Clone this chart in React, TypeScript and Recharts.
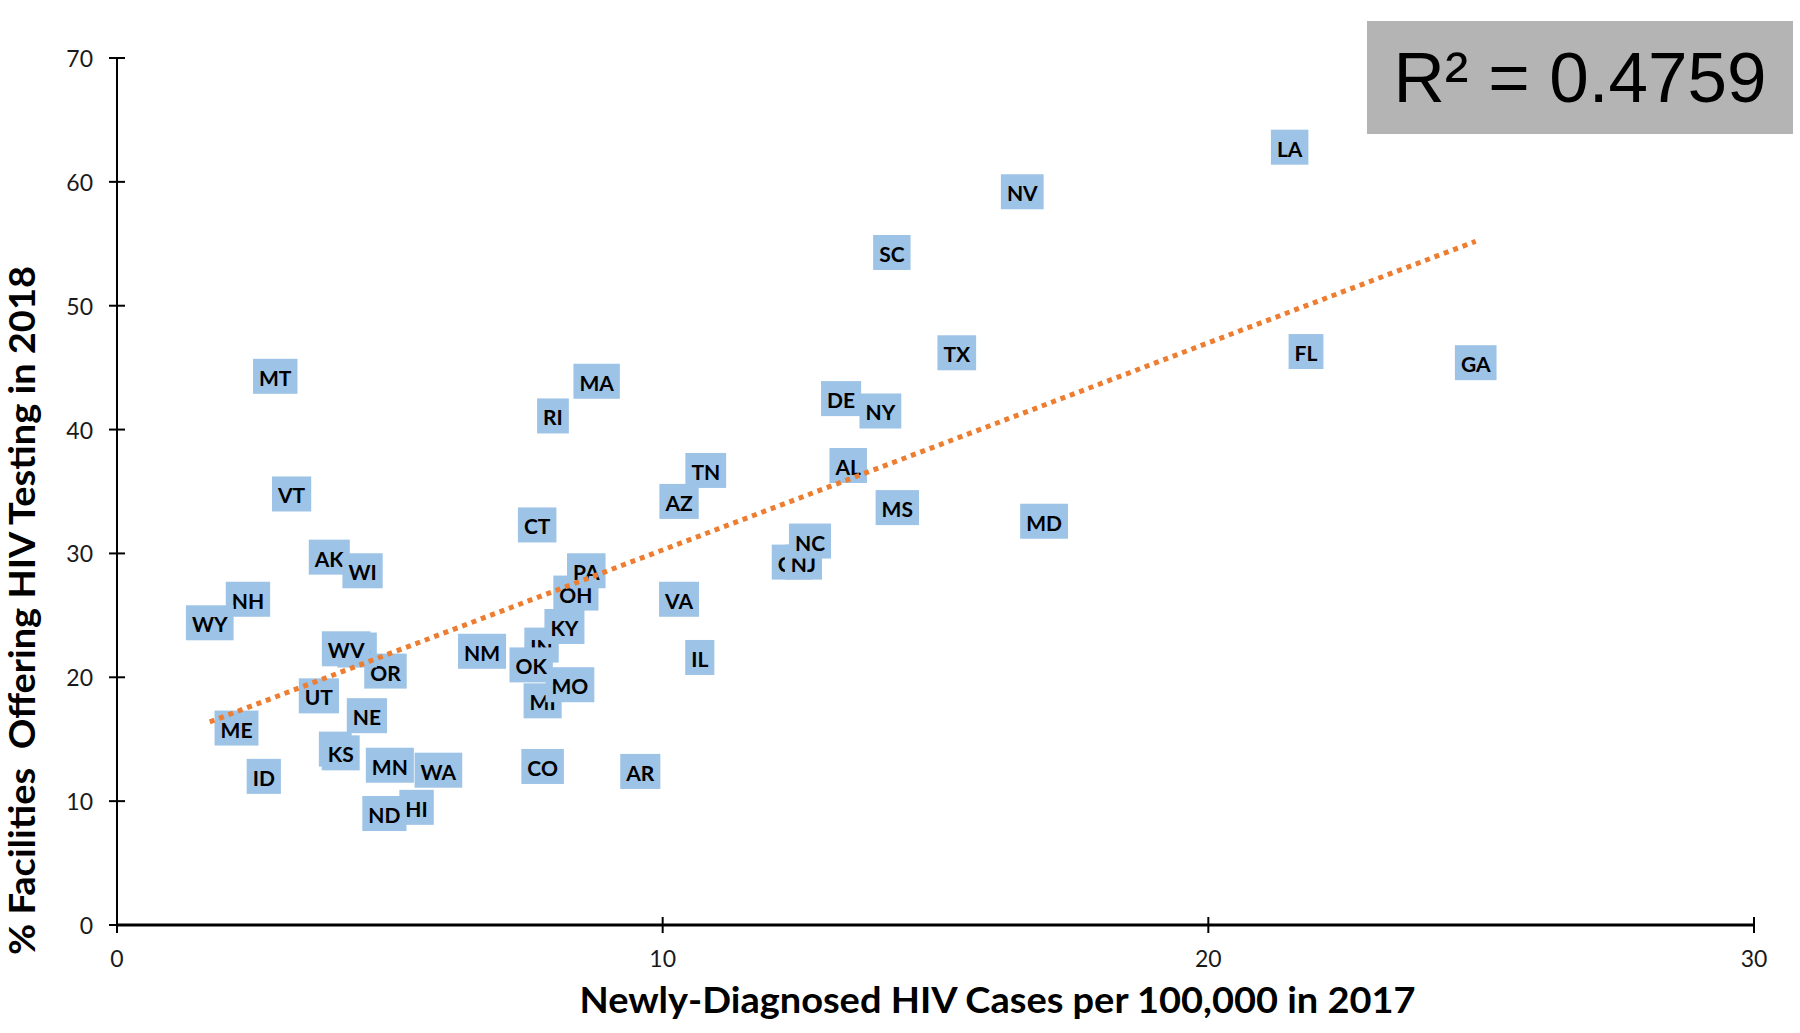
import React from 'react';
import { ScatterChart, Scatter, XAxis, YAxis, Label } from 'recharts';

document.body.style.margin = '0';

// states in full-name order (that is the drawing order of the labels)
const states = [
  'AL', 'AK', 'AZ', 'AR', 'CA', 'CO', 'CT', 'DE', 'FL', 'GA',
  'HI', 'ID', 'IL', 'IN', 'IA', 'KS', 'KY', 'LA', 'ME', 'MD',
  'MA', 'MI', 'MN', 'MS', 'MO', 'MT', 'NE', 'NV', 'NH', 'NJ',
  'NM', 'NY', 'NC', 'ND', 'OH', 'OK', 'OR', 'PA', 'RI', 'SC',
  'SD', 'TN', 'TX', 'UT', 'VT', 'VA', 'WA', 'WV', 'WI', 'WY',
];
// newly-diagnosed HIV cases per 100,000 (2017)
const cases = [
  13.4, 3.89, 10.3, 9.59, 12.37, 7.8, 7.7, 13.27, 21.79, 24.9,
  5.49, 2.69, 10.68, 7.78, 4.0, 4.1, 8.2, 21.49, 2.19, 16.99,
  8.79, 7.8, 5.0, 14.3, 8.3, 2.9, 4.58, 16.59, 2.4, 12.58,
  6.69, 13.99, 12.7, 4.9, 8.41, 7.59, 4.92, 8.6, 7.99, 14.2,
  4.4, 10.79, 15.39, 3.7, 3.2, 10.3, 5.89, 4.2, 4.5, 1.7,
];
// % facilities offering HIV testing (2018)
const testing = [
  37.1, 29.7, 34.2, 12.4, 29.3, 12.8, 32.3, 42.5, 46.3, 45.4,
  9.5, 12.0, 21.6, 22.6, 14.2, 13.9, 24.1, 62.8, 15.9, 32.6,
  43.9, 18.1, 12.9, 33.7, 19.4, 44.3, 16.9, 59.2, 26.3, 29.3,
  22.1, 41.5, 31.0, 9.0, 26.8, 21.0, 20.5, 28.6, 41.1, 54.3,
  22.2, 36.7, 46.2, 18.5, 34.8, 26.3, 12.5, 22.3, 28.6, 24.4,
];

// linear trend line end points
const trendX = [1.7, 24.9];
const trendY = [16.4, 55.2];

const xTicks = [0, 10, 20, 30];
const yTicks = [0, 10, 20, 30, 40, 50, 60, 70];

const points = states.map((s, i) => ({ state: s, x: cases[i], y: testing[i] }));
const trend = trendX.map((x, i) => ({ x, y: trendY[i] }));

const LABEL_SIZE = 21;
const ctx = document.createElement('canvas').getContext('2d');
const measure = (s: string) => {
  if (!ctx) return s.length * 15;
  ctx.font = `bold ${LABEL_SIZE}px Lato`;
  return ctx.measureText(s).width;
};

const StateLabel = (props: any) => {
  const { cx, cy, payload } = props;
  const w = measure(payload.state) + 12;
  const h = 35;
  return (
    <g>
      <rect x={cx - w / 2} y={cy - h / 2} width={w} height={h} fill="#9DC3E6" />
      <text
        x={cx}
        y={cy + 1}
        textAnchor="middle"
        dominantBaseline="central"
        fontFamily="Lato"
        fontWeight="bold"
        fontSize={LABEL_SIZE}
        fill="#000"
      >
        {payload.state}
      </text>
    </g>
  );
};

const XTick = (props: any) => {
  const { x, y, payload } = props;
  return (
    <g>
      <line x1={x} x2={x} y1={y - 8} y2={y + 8} stroke="#000" strokeWidth={2} />
      <text x={x} y={y + 33} textAnchor="middle" dominantBaseline="central" fontFamily="Lato" fontSize={23} fill="#1a1a1a">
        {payload.value}
      </text>
    </g>
  );
};

const YTick = (props: any) => {
  const { x, y, payload } = props;
  return (
    <g>
      <line x1={x - 8} x2={x + 8} y1={y} y2={y} stroke="#000" strokeWidth={2} />
      <text x={x - 24} y={y} textAnchor="end" dominantBaseline="central" fontFamily="Lato" fontSize={23} fill="#1a1a1a">
        {payload.value}
      </text>
    </g>
  );
};

const XTitle = (props: any) => {
  const vb = props.viewBox;
  return (
    <text
      x={vb.x + vb.width / 2 + 62}
      y={vb.y + 88}
      textAnchor="middle"
      fontFamily="Lato"
      fontWeight="bold"
      fontSize={36}
      textLength={836}
      lengthAdjust="spacingAndGlyphs"
      fill="#000"
    >
      Newly-Diagnosed HIV Cases per 100,000 in 2017
    </text>
  );
};

const YTitle = (props: any) => {
  const vb = props.viewBox;
  const cx = 35;
  const cy = vb.y + vb.height / 2 + 119;
  return (
    <text
      x={cx}
      y={cy}
      transform={`rotate(-90, ${cx}, ${cy})`}
      textAnchor="middle"
      fontFamily="Lato"
      fontWeight="bold"
      fontSize={36}
      textLength={689}
      lengthAdjust="spacingAndGlyphs"
      fill="#000"
      style={{ whiteSpace: 'pre' }}
    >
      % Facilities  Offering HIV Testing in 2018
    </text>
  );
};

export default function App() {
  return (
    <div style={{ position: 'relative', width: 1800, height: 1033, background: '#fff' }}>
      <ScatterChart width={1800} height={1033} margin={{ top: 58, right: 46, bottom: 0, left: 0 }}>
        <XAxis
          type="number"
          dataKey="x"
          domain={[0, 30]}
          ticks={xTicks}
          interval={0}
          height={108}
          axisLine={{ stroke: '#000', strokeWidth: 3 }}
          tickLine={false}
          tickSize={0}
          tickMargin={0}
          tick={<XTick />}
        >
          <Label content={<XTitle />} />
        </XAxis>
        <YAxis
          type="number"
          dataKey="y"
          domain={[0, 70]}
          ticks={yTicks}
          interval={0}
          width={117}
          axisLine={{ stroke: '#000', strokeWidth: 2 }}
          tickLine={false}
          tickSize={0}
          tickMargin={0}
          tick={<YTick />}
        >
          <Label content={<YTitle />} />
        </YAxis>
        <Scatter data={points} shape={<StateLabel />} isAnimationActive={false} />
        <Scatter
          data={trend}
          line={{ stroke: '#ED7D31', strokeWidth: 5, strokeDasharray: '5 5' }}
          lineType="joint"
          shape={() => <g />}
          isAnimationActive={false}
        />
      </ScatterChart>
      <div
        style={{
          position: 'absolute',
          left: 1367,
          top: 21,
          width: 426,
          height: 113,
          background: '#B4B4B4',
          fontFamily: '"Liberation Sans", Arial, sans-serif',
          fontSize: 71,
          lineHeight: '113px',
          textAlign: 'center',
          color: '#000',
        }}
      >
        R² = 0.4759
      </div>
    </div>
  );
}
